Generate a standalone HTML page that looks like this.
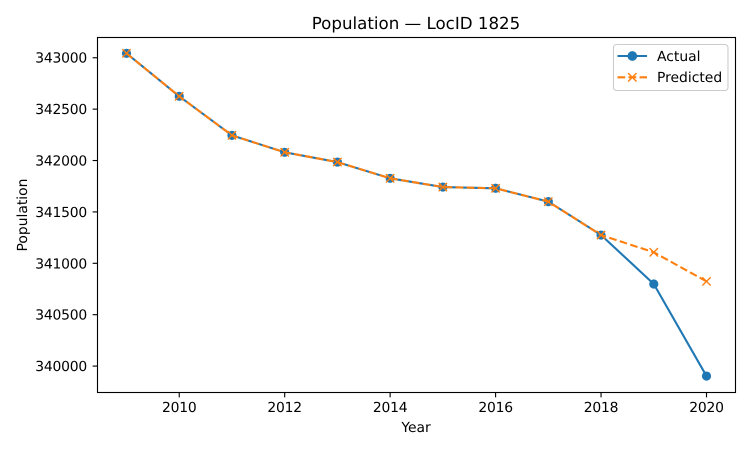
<!DOCTYPE html>
<html>
<head>
<meta charset="utf-8">
<style>
html,body{margin:0;padding:0;background:#fff;width:750px;height:450px;overflow:hidden}
svg{display:block}
text{font-family:"DejaVu Sans","Liberation Sans",sans-serif;fill:#000;text-rendering:geometricPrecision}
</style>
</head>
<body>
<svg id="chart" xmlns="http://www.w3.org/2000/svg" width="750" height="450" viewBox="0 0 750 450">
  <rect x="0" y="0" width="750" height="450" fill="#fff"/>
  <rect x="97.5" y="37.5" width="638" height="355" fill="#fff"/>
  <g id="series"></g>
  <g id="ticks"></g>
  <rect x="97.5" y="37.5" width="638" height="355" fill="none" stroke="#000" stroke-width="1.11"/>
  <text x="416" y="29" font-size="16.67" text-anchor="middle">Population — LocID 1825</text>
  <text x="416" y="432" font-size="13.89" text-anchor="middle">Year</text>
  <text transform="translate(27,215) rotate(-90)" font-size="13.89" text-anchor="middle">Population</text>
  <g>
    <rect x="613.5" y="44.5" width="114.5" height="46" rx="3" ry="3" fill="#fff" fill-opacity="0.8" stroke="#ccc" stroke-width="1.11"/>
    <g>
      <line x1="617.5" y1="56" x2="647" y2="56" stroke="#1f77b4" stroke-width="2.08"/>
      <circle cx="632.3" cy="56" r="4.86" fill="#1f77b4"/>
      <text x="657" y="61" font-size="13.89">Actual</text>
    </g>
    <g>
      <line x1="617.5" y1="77.3" x2="647" y2="77.3" stroke="#ff7f0e" stroke-width="2.08" stroke-dasharray="7.7,3.33"/>
      <path d="M628.1 73.1L636.5 81.5M628.1 81.5L636.5 73.1" stroke="#ff7f0e" stroke-width="1.39" fill="none"/>
      <text x="657" y="82" font-size="13.89">Predicted</text>
    </g>
  </g>
</svg>
<script>
var years = [2009, 2010, 2011, 2012, 2013, 2014, 2015, 2016, 2017, 2018, 2019, 2020];
var actualValues = [343043, 342625, 342245, 342080, 341985, 341827, 341742, 341730, 341600, 341275, 340799, 339903];
var predictedValues = [343043, 342625, 342245, 342080, 341985, 341827, 341742, 341730, 341600, 341275, 341107, 340824];
var xTickLabels = [2010, 2012, 2014, 2016, 2018, 2020];
var yTickLabels = [340000, 340500, 341000, 341500, 342000, 342500, 343000];

var NS = 'http://www.w3.org/2000/svg';
var plotLeft = 97.5, plotRight = 735.5, plotTop = 37.5, plotBottom = 392.5;
var xDomainMin = 2008.45, xDomainMax = 2020.55;
var yDomainMin = 339743, yDomainMax = 343197;

function xScale(v) {
  return plotLeft + (v - xDomainMin) / (xDomainMax - xDomainMin) * (plotRight - plotLeft);
}
function yScale(v) {
  return plotBottom - (v - yDomainMin) / (yDomainMax - yDomainMin) * (plotBottom - plotTop);
}
function make(tag, parent, props) {
  var el = document.createElementNS(NS, tag);
  for (var k in props) { el.setAttribute(k, props[k]); }
  parent.appendChild(el);
  return el;
}
function linePoints(values) {
  return values.map(function (v, i) {
    return xScale(years[i]).toFixed(2) + ',' + yScale(v).toFixed(2);
  }).join(' ');
}

var series = document.getElementById('series');
var ticks = document.getElementById('ticks');

var actualLine = make('polyline', series, {
  points: linePoints(actualValues), fill: 'none', stroke: '#1f77b4', 'stroke-width': 2.08, 'stroke-linejoin': 'round'
});



actualValues.forEach(function (v, i) {
  var dot = make('circle', series, { cx: xScale(years[i]), cy: yScale(v), r: 4.6, fill: '#1f77b4' });
  
  
});

var predictedLine = make('polyline', series, {
  points: linePoints(predictedValues), fill: 'none', stroke: '#ff7f0e', 'stroke-width': 2.08, 'stroke-dasharray': '7.7,3.33', 'stroke-linejoin': 'round'
});



predictedValues.forEach(function (v, i) {
  var cx = xScale(years[i]), cy = yScale(v), s = 4.17;
  var mark = make('path', series, {
    d: 'M' + (cx - s) + ' ' + (cy - s) + 'L' + (cx + s) + ' ' + (cy + s) + 'M' + (cx - s) + ' ' + (cy + s) + 'L' + (cx + s) + ' ' + (cy - s),
    stroke: '#ff7f0e', 'stroke-width': 1.39, fill: 'none'
  });
  
  
});

xTickLabels.forEach(function (t) {
  var x = xScale(t);
  var tick = make('line', ticks, { x1: x, x2: x, y1: plotBottom, y2: plotBottom + 4.86, stroke: '#000', 'stroke-width': 1.11 });
  
  
  var label = make('text', ticks, { x: x, y: 412, 'font-size': 13.89, 'text-anchor': 'middle', 'letter-spacing': '-0.2' });
  label.textContent = t;
  
  
});

yTickLabels.forEach(function (t) {
  var y = yScale(t);
  var tick = make('line', ticks, { x1: plotLeft - 4.86, x2: plotLeft, y1: y, y2: y, stroke: '#000', 'stroke-width': 1.11 });
  
  
  var label = make('text', ticks, { x: 87, y: y + 5, 'font-size': 13.89, 'text-anchor': 'end', 'letter-spacing': '-0.2' });
  label.textContent = t;
  
  
});
</script>
</body>
</html>
